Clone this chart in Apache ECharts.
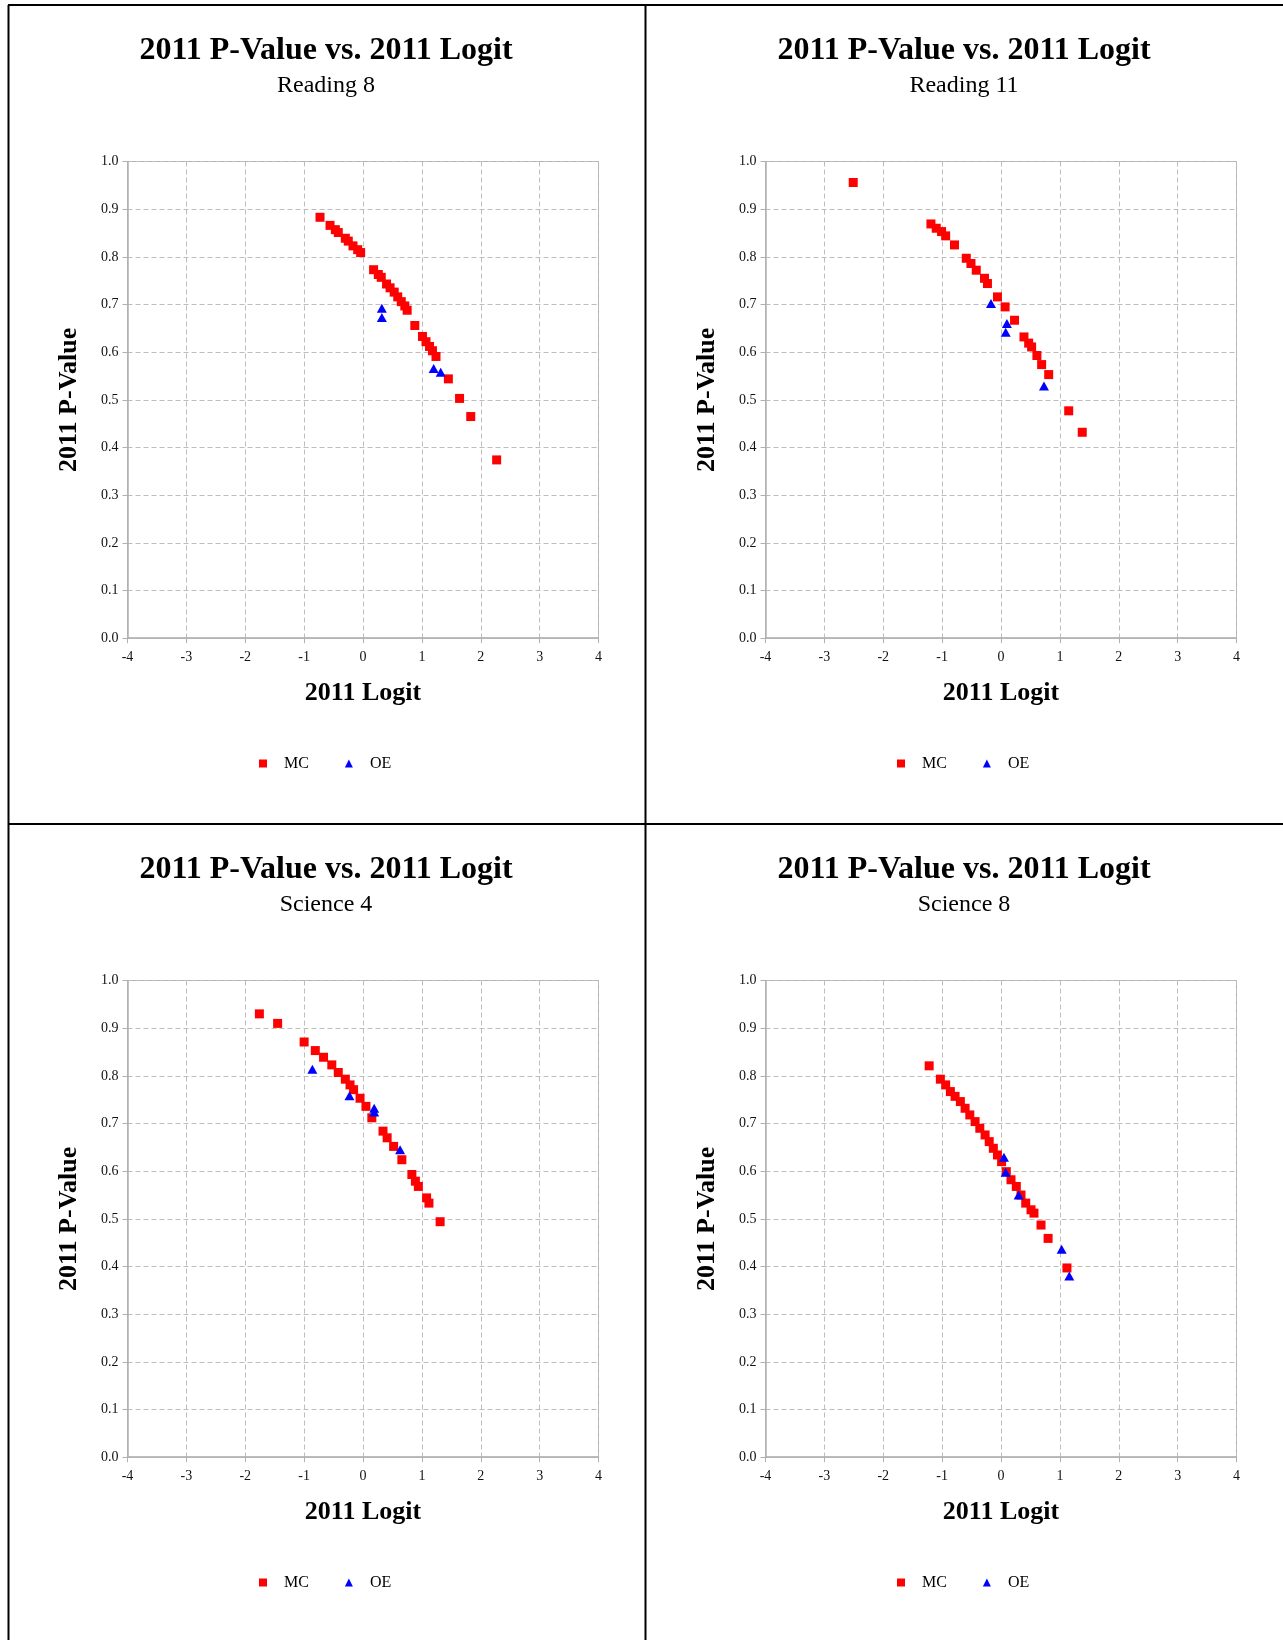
<!DOCTYPE html>
<html>
<head>
<meta charset="utf-8">
<script src="https://cdn.jsdelivr.net/npm/echarts@6/dist/echarts.min.js"></script>
<style>
  html, body { margin: 0; padding: 0; background: #fff; }
  #chart { width: 1283px; height: 1640px; }
</style>
</head>
<body>
<div id="chart"></div>
<script>
// ---------- DATA ----------
const mainTitle = '2011 P-Value vs. 2011 Logit';
const subTitles = ['Reading 8', 'Reading 11', 'Science 4', 'Science 8'];
const xAxisName = '2011 Logit';
const yAxisName = '2011 P-Value';
const seriesNames = ['MC', 'OE'];

const reading8MC = [
  [-0.73, 0.883], [-0.56, 0.866], [-0.47, 0.857], [-0.42, 0.851], [-0.30, 0.839],
  [-0.25, 0.833], [-0.17, 0.823], [-0.09, 0.815], [-0.04, 0.809],
  [0.18, 0.773], [0.26, 0.763], [0.31, 0.757], [0.40, 0.743], [0.46, 0.735],
  [0.53, 0.726], [0.59, 0.716], [0.65, 0.706], [0.71, 0.697], [0.75, 0.688],
  [0.88, 0.656],
  [1.01, 0.633], [1.07, 0.622], [1.13, 0.612], [1.18, 0.603], [1.24, 0.591],
  [1.45, 0.544], [1.64, 0.503], [1.83, 0.465], [2.27, 0.374]
];
const reading8OE = [[0.32, 0.692], [0.32, 0.673], [1.20, 0.566], [1.32, 0.558]];

const reading11MC = [
  [-2.51, 0.956],
  [-1.19, 0.869], [-1.10, 0.860], [-1.01, 0.853], [-0.94, 0.844], [-0.79, 0.825],
  [-0.59, 0.797], [-0.51, 0.786], [-0.42, 0.772], [-0.28, 0.755], [-0.23, 0.744],
  [-0.06, 0.716], [0.07, 0.695], [0.23, 0.667], [0.39, 0.632], [0.47, 0.619],
  [0.52, 0.611], [0.61, 0.593], [0.69, 0.574], [0.81, 0.553],
  [1.15, 0.477], [1.38, 0.432]
];
const reading11OE = [[-0.17, 0.702], [0.10, 0.660], [0.08, 0.642], [0.73, 0.529]];

const science4MC = [
  [-1.76, 0.930], [-1.45, 0.910], [-1.00, 0.871], [-0.81, 0.853], [-0.67, 0.839],
  [-0.53, 0.823], [-0.42, 0.807], [-0.30, 0.793], [-0.22, 0.781], [-0.16, 0.771],
  [-0.05, 0.753], [0.05, 0.736], [0.15, 0.712], [0.34, 0.684], [0.41, 0.670],
  [0.52, 0.652], [0.66, 0.624], [0.83, 0.593], [0.89, 0.579], [0.94, 0.568],
  [1.08, 0.544], [1.12, 0.533], [1.31, 0.494]
];
const science4OE = [[-0.86, 0.814], [-0.23, 0.758], [0.19, 0.732], [0.19, 0.724], [0.63, 0.645]];

const science8MC = [
  [-1.22, 0.821], [-1.03, 0.793], [-0.94, 0.781], [-0.86, 0.767], [-0.78, 0.757],
  [-0.69, 0.746], [-0.61, 0.732], [-0.53, 0.718], [-0.44, 0.704], [-0.36, 0.690],
  [-0.27, 0.676], [-0.20, 0.662], [-0.13, 0.648], [-0.06, 0.634], [0.01, 0.620],
  [0.09, 0.599], [0.17, 0.582], [0.26, 0.568], [0.34, 0.550], [0.42, 0.533],
  [0.51, 0.519], [0.56, 0.512], [0.68, 0.487], [0.80, 0.459], [1.12, 0.397]
];
const science8OE = [[0.05, 0.629], [0.08, 0.598], [0.30, 0.550], [1.03, 0.436], [1.16, 0.380]];

const xTicks = [-4, -3, -2, -1, 0, 1, 2, 3, 4];
const yTicks = [0.0, 0.1, 0.2, 0.3, 0.4, 0.5, 0.6, 0.7, 0.8, 0.9, 1.0];

const panelData = [
  [reading8MC, reading8OE],
  [reading11MC, reading11OE],
  [science4MC, science4OE],
  [science8MC, science8OE]
];

// ---------- LAYOUT ----------
const FONT = 'Liberation Serif';
const panels = [
  { cx: 326, left: 127.5, top: 161.5 },
  { cx: 964, left: 765.5, top: 161.5 },
  { cx: 326, left: 127.5, top: 980.5 },
  { cx: 964, left: 765.5, top: 980.5 }
];
const PW = 471, PH = 476.7;

const option = {
  animation: false,
  backgroundColor: '#fff',
  title: [], legend: [], grid: [], xAxis: [], yAxis: [], series: [],
  graphic: [
    { type: 'line', shape: { x1: 8, y1: 5, x2: 1283, y2: 5 }, style: { stroke: '#000', lineWidth: 2 } },
    { type: 'line', shape: { x1: 8.5, y1: 5, x2: 8.5, y2: 1640 }, style: { stroke: '#000', lineWidth: 2 } },
    { type: 'line', shape: { x1: 645.5, y1: 5, x2: 645.5, y2: 1640 }, style: { stroke: '#000', lineWidth: 2 } },
    { type: 'line', shape: { x1: 8, y1: 824, x2: 1283, y2: 824 }, style: { stroke: '#000', lineWidth: 2 } }
  ]
};

panels.forEach((p, i) => {
  option.title.push({
    text: mainTitle,
    subtext: subTitles[i],
    left: p.cx,
    top: p.top - 128,
    textAlign: 'center',
    itemGap: 5,
    padding: 0,
    textStyle: { fontFamily: FONT, fontSize: 32, fontWeight: 'bold', color: '#000', lineHeight: 34 },
    subtextStyle: { fontFamily: FONT, fontSize: 24, color: '#000', lineHeight: 26 }
  });
  option.legend.push({
    data: [
      { name: 'MC', icon: 'rect' },
      { name: 'OE', icon: 'triangle' }
    ],
    left: p.cx - 67,
    top: p.top + 594,
    padding: 0,
    itemWidth: 8,
    itemHeight: 8,
    itemGap: 36,
    selectedMode: false,
    textStyle: { fontFamily: FONT, fontSize: 16, color: '#000', padding: [0, 0, 0, 12] }
  });
  option.grid.push({
    left: p.left, top: p.top, width: PW, height: PH,
    show: true, borderColor: '#b0b0b0', borderWidth: 1, backgroundColor: 'transparent'
  });
  option.xAxis.push({
    gridIndex: i, type: 'value', min: xTicks[0], max: xTicks[xTicks.length - 1], interval: 1,
    name: xAxisName, nameLocation: 'middle', nameGap: 42,
    nameTextStyle: { fontFamily: FONT, fontSize: 26, fontWeight: 'bold', color: '#000' },
    axisLine: { show: true, onZero: false, lineStyle: { color: '#b0b0b0', width: 1.5 } },
    axisTick: { show: true, length: 5, lineStyle: { color: '#b0b0b0' } },
    axisLabel: { fontFamily: FONT, fontSize: 14, color: '#111', margin: 12 },
    splitLine: { show: true, lineStyle: { color: '#bdbdbd', type: [5, 3], width: 1 } }
  });
  option.yAxis.push({
    gridIndex: i, type: 'value', min: yTicks[0], max: yTicks[yTicks.length - 1], interval: 0.1,
    name: yAxisName, nameLocation: 'middle', nameGap: 45,
    nameTextStyle: { fontFamily: FONT, fontSize: 26, fontWeight: 'bold', color: '#000' },
    axisLine: { show: true, onZero: false, lineStyle: { color: '#b0b0b0', width: 1.5 } },
    axisTick: { show: true, length: 5, lineStyle: { color: '#b0b0b0' } },
    axisLabel: { fontFamily: FONT, fontSize: 14, color: '#111', margin: 9, formatter: v => v.toFixed(1) },
    splitLine: { show: true, lineStyle: { color: '#bdbdbd', type: [5, 3], width: 1 } }
  });
  option.series.push({
    name: seriesNames[0], type: 'scatter', xAxisIndex: i, yAxisIndex: i,
    symbol: 'rect', symbolSize: 9, itemStyle: { color: '#ff0000', opacity: 1 },
    data: panelData[i][0], z: 3
  });
  option.series.push({
    name: seriesNames[1], type: 'scatter', xAxisIndex: i, yAxisIndex: i,
    symbol: 'triangle', symbolSize: [10, 9], itemStyle: { color: '#0000ff', opacity: 1 },
    data: panelData[i][1], z: 4
  });
});

const chart = echarts.init(document.getElementById('chart'), null, { renderer: 'canvas' });
chart.setOption(option);
</script>
</body>
</html>
